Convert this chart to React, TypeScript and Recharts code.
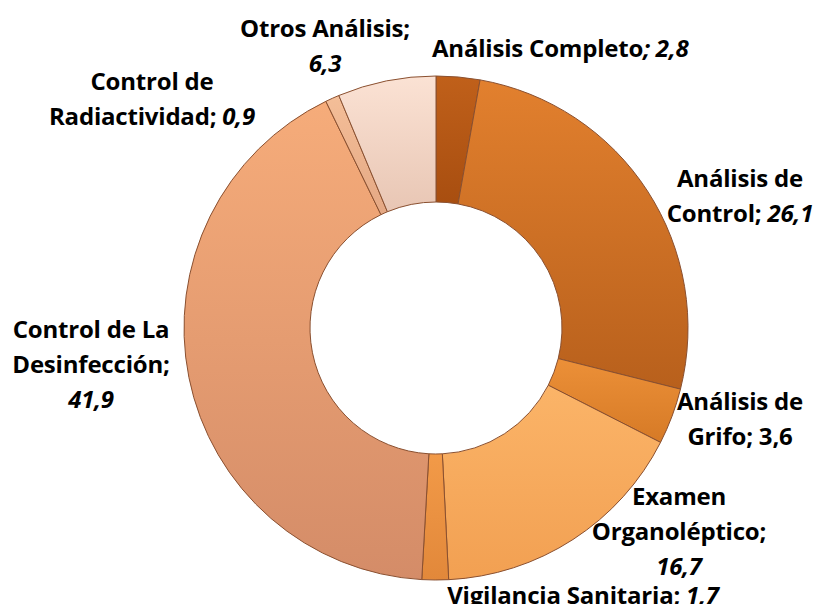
import React from 'react';
import { PieChart, Pie, Cell } from 'recharts';

// Sample data
const categories = [
  'Análisis Completo',
  'Análisis de Control',
  'Análisis de Grifo',
  'Examen Organoléptico',
  'Vigilancia Sanitaria',
  'Control de La Desinfección',
  'Control de Radiactividad',
  'Otros Análisis',
];
const values = [2.8, 26.1, 3.6, 16.7, 1.7, 41.9, 0.9, 6.3];

// label lines: [text, italic]
const labelLines: [string, boolean][][][] = [
  [[['Análisis Completo', false], ['; 2,8', true]]],
  [[['Análisis de', false]], [['Control; ', false], ['26,1', true]]],
  [[['Análisis de', false]], [['Grifo; 3,6', false]]],
  [[['Examen', false]], [['Organoléptico;', false]], [['16,7', true]]],
  [[['Vigilancia Sanitaria; ', false], ['1,7', true]]],
  [[['Control de La', false]], [['Desinfección;', false]], [['41,9', true]]],
  [[['Control de', false]], [['Radiactividad; ', false], ['0,9', true]]],
  [[['Otros Análisis;', false]], [['6,3', true]]],
];

// where each label sits (x, first baseline y, anchor)
const labelPos: [number, number, string][] = [
  [432, 57, 'start'],
  [740, 187, 'middle'],
  [740, 410, 'middle'],
  [679, 505, 'middle'],
  [583, 604, 'middle'],
  [91, 338, 'middle'],
  [152, 90, 'middle'],
  [325, 37, 'middle'],
];

const gradients = [
  ['#C0601A', '#A84E10'],
  ['#E2802E', '#B8601C'],
  ['#EC9038', '#D67A26'],
  ['#FBB468', '#F2A052'],
  ['#F29A48', '#E2883A'],
  ['#F6AC7A', '#D48C68'],
  ['#F4BE98', '#E4A884'],
  ['#FBE2D4', '#E8C6B4'],
];

const data = categories.map((name, i) => ({ name, value: values[i] }));

const renderLabel = (props: any) => {
  const i = props.index;
  const [x, y, anchor] = labelPos[i];
  return (
    <text
      key={`lbl-${i}`}
      x={x}
      y={y}
      textAnchor={anchor as any}
      fontFamily="'Open Sans', sans-serif"
      fontWeight={700}
      fontSize={24}
      letterSpacing={-0.2}
      fill="#000"
    >
      {labelLines[i].map((line, li) => (
        <tspan key={li} x={x} dy={li === 0 ? 0 : 35}>
          {line.map(([t, it], k) => (
            <tspan key={k} fontStyle={it ? 'italic' : 'normal'}>{t}</tspan>
          ))}
        </tspan>
      ))}
    </text>
  );
};

export default function App() {
  return (
    <div style={{ width: 822, height: 612, margin: -8, background: '#fff' }}>
      <PieChart width={822} height={612}>
        <defs>
          {gradients.map((g, i) => (
            <linearGradient key={i} id={`grad-${i}`} x1="0" y1="0" x2="0" y2="1">
              <stop offset="0%" stopColor={g[0]} />
              <stop offset="100%" stopColor={g[1]} />
            </linearGradient>
          ))}
        </defs>
        <Pie
          data={data}
          dataKey="value"
          cx={431}
          cy={323}
          innerRadius={126}
          outerRadius={252}
          startAngle={90}
          endAngle={-270}
          stroke="#8a5030"
          strokeWidth={1}
          label={renderLabel}
          labelLine={false}
          isAnimationActive={false}
        >
          {data.map((d, i) => (
            <Cell key={`cell-${i}`} fill={`url(#grad-${i})`} />
          ))}
        </Pie>
      </PieChart>
    </div>
  );
}
